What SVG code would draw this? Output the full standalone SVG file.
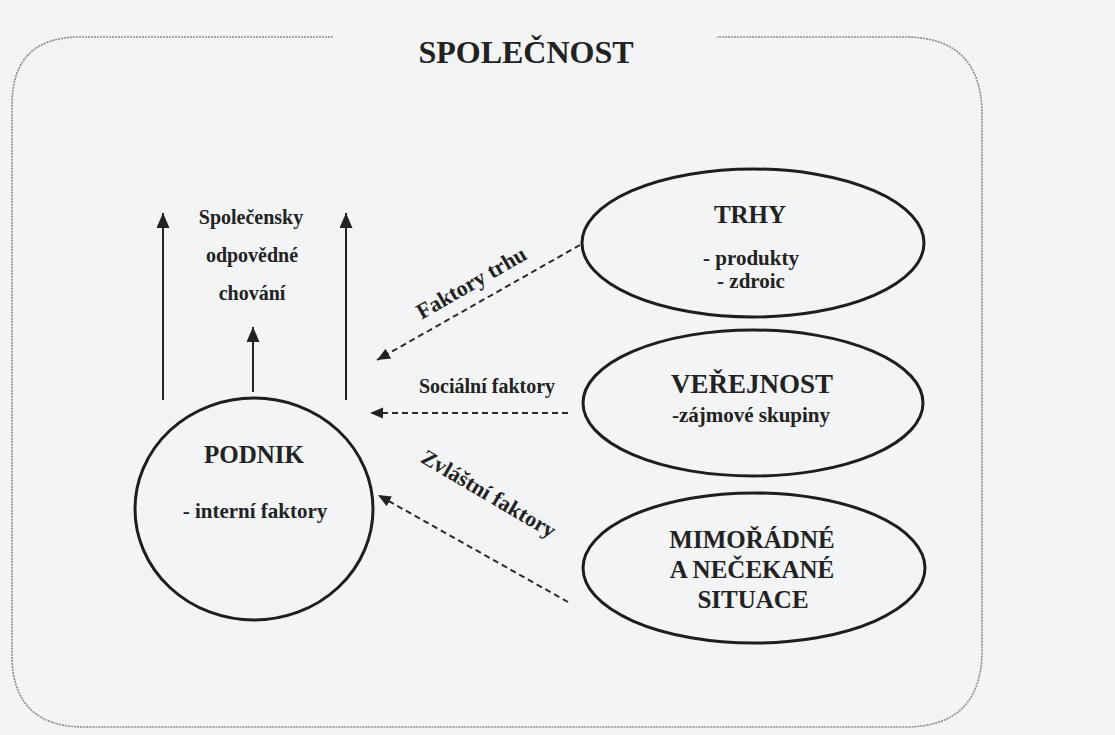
<svg xmlns="http://www.w3.org/2000/svg" width="1115" height="735" viewBox="0 0 1115 735">
  <style>
    .t { font-family: "Liberation Serif", "Times New Roman", serif; font-weight: bold; fill: #222; text-anchor: middle; }
    .node { fill: none; stroke: #1e1e1e; stroke-width: 3; }
    .solid { stroke: #222; stroke-width: 2; fill: none; }
    .dash { stroke: #2a2a2a; stroke-width: 2; fill: none; stroke-dasharray: 6 4; }
    .frame { fill: none; stroke: #8a8a8a; stroke-width: 1.6; stroke-dasharray: 2 1; }
  </style>
  <defs>
    <marker id="ah" markerUnits="userSpaceOnUse" markerWidth="16" markerHeight="14" refX="15" refY="6.5" orient="auto">
      <path d="M0,0 L15,6.5 L0,13 z" fill="#222"/>
    </marker>
    <marker id="ahs" markerUnits="userSpaceOnUse" markerWidth="14" markerHeight="12" refX="13" refY="5.5" orient="auto">
      <path d="M0,0 L13,5.5 L0,11 z" fill="#222"/>
    </marker>
  </defs>
  <rect x="0" y="0" width="1115" height="735" fill="#f3f4f6"/>

  <g id="frame">
    <path class="frame" d="M333,37 L80,37 Q12,37 12,105 L12,655 Q12,727 85,727 L905,727 Q982,727 982,650 L982,115 Q982,37 905,37 L717,37"/>
    <text class="t" x="526" y="63" font-size="32">SPOLEČNOST</text>
  </g>

  <g id="connectors">
    <line class="solid" x1="163" y1="400" x2="163" y2="213" marker-end="url(#ah)"/>
    <line class="solid" x1="253" y1="392" x2="253" y2="327" marker-end="url(#ah)"/>
    <line class="solid" x1="346" y1="400" x2="346" y2="213" marker-end="url(#ah)"/>
    <line class="dash" x1="580" y1="245" x2="377" y2="360" marker-end="url(#ahs)"/>
    <line class="dash" x1="568" y1="413" x2="370" y2="413" marker-end="url(#ahs)"/>
    <line class="dash" x1="568" y1="602" x2="378" y2="495" marker-end="url(#ahs)"/>
    <text class="t" font-size="22" transform="translate(475,289) rotate(-30)">Faktory trhu</text>
    <text class="t" x="487" y="393" font-size="20">Sociální faktory</text>
    <text class="t" font-size="22" transform="translate(485,500) rotate(30.5)">Zvláštní faktory</text>
  </g>

  <g id="label-spolecensky">
    <text class="t" x="251" y="224" font-size="20">Společensky</text>
    <text class="t" x="252" y="262" font-size="20">odpovědné</text>
    <text class="t" x="252" y="300" font-size="20">chování</text>
  </g>

  <g id="podnik">
    <ellipse class="node" cx="254" cy="509" rx="119" ry="111"/>
    <text class="t" x="254" y="463" font-size="25">PODNIK</text>
    <text class="t" x="255" y="518" font-size="21">- interní faktory</text>
  </g>

  <g id="trhy">
    <ellipse class="node" cx="753" cy="243" rx="171" ry="74"/>
    <text class="t" x="750" y="223" font-size="25">TRHY</text>
    <text class="t" x="751" y="265" font-size="21">- produkty</text>
    <text class="t" x="751" y="288" font-size="21">- zdroic</text>
  </g>

  <g id="verejnost">
    <ellipse class="node" cx="753" cy="403" rx="170" ry="73"/>
    <text class="t" x="752" y="393" font-size="27">VEŘEJNOST</text>
    <text class="t" x="751" y="422" font-size="21">-zájmové skupiny</text>
  </g>

  <g id="mimoradne">
    <ellipse class="node" cx="754" cy="568" rx="171" ry="75"/>
    <text class="t" x="752" y="548" font-size="25">MIMOŘÁDNÉ</text>
    <text class="t" x="752" y="578" font-size="25">A NEČEKANÉ</text>
    <text class="t" x="753" y="608" font-size="25">SITUACE</text>
  </g>
</svg>
